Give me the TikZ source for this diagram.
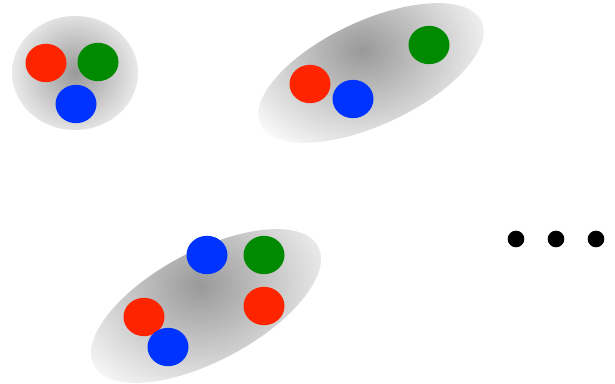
\documentclass[tikz,border=0pt]{standalone}
\usetikzlibrary{shapes.geometric}
\definecolor{ballred}{RGB}{255,36,0}
\definecolor{ballgreen}{RGB}{0,138,0}
\definecolor{ballblue}{RGB}{0,51,255}

\begin{document}
\begin{tikzpicture}[x=0.75pt,y=-0.75pt,
  grp/.style 2 args={ellipse,inner sep=0pt,
    path picture={\shade[inner color=black!40,outer color=white] (#1) circle (#2);}},
  ball/.style={ellipse,inner sep=0pt,minimum width=30.75pt,minimum height=28.75pt},
  dot/.style={circle,fill=black,inner sep=0pt,minimum size=12.5pt}]
  \useasboundingbox (0,0) rectangle (615,384);
  % shading centres
  \coordinate (fA) at (75,72);
  \coordinate (fB) at (362,50);
  \coordinate (fC) at (200,285);
  \node[grp={fA}{80}, minimum width=94.5pt, minimum height=85.5pt] (grpA) at (75,73) {};
  \node[grp={fB}{130}, rotate=25, minimum width=183pt, minimum height=78pt] (grpB) at (371,73) {};
  \node[grp={fC}{140}, rotate=28, minimum width=190.5pt, minimum height=82.5pt] (grpC) at (206,306) {};
  % balls
  \node[ball, fill=ballred] (a1) at (46,63) {};
  \node[ball, fill=ballgreen] (a2) at (98,62) {};
  \node[ball, fill=ballblue] (a3) at (76,104) {};
  \node[ball, fill=ballred] (b1) at (310,84) {};
  \node[ball, fill=ballblue] (b2) at (353,99) {};
  \node[ball, fill=ballgreen] (b3) at (429,45) {};
  \node[ball, fill=ballblue] (c1) at (207,255) {};
  \node[ball, fill=ballgreen] (c2) at (264,255) {};
  \node[ball, fill=ballred] (c3) at (264,306) {};
  \node[ball, fill=ballred] (c4) at (144,317) {};
  \node[ball, fill=ballblue] (c5) at (168,347) {};
  \foreach \i/\x in {1/516,2/556,3/596} {\node[dot] (dot\i) at (\x,239) {};}
\end{tikzpicture}
\end{document}
